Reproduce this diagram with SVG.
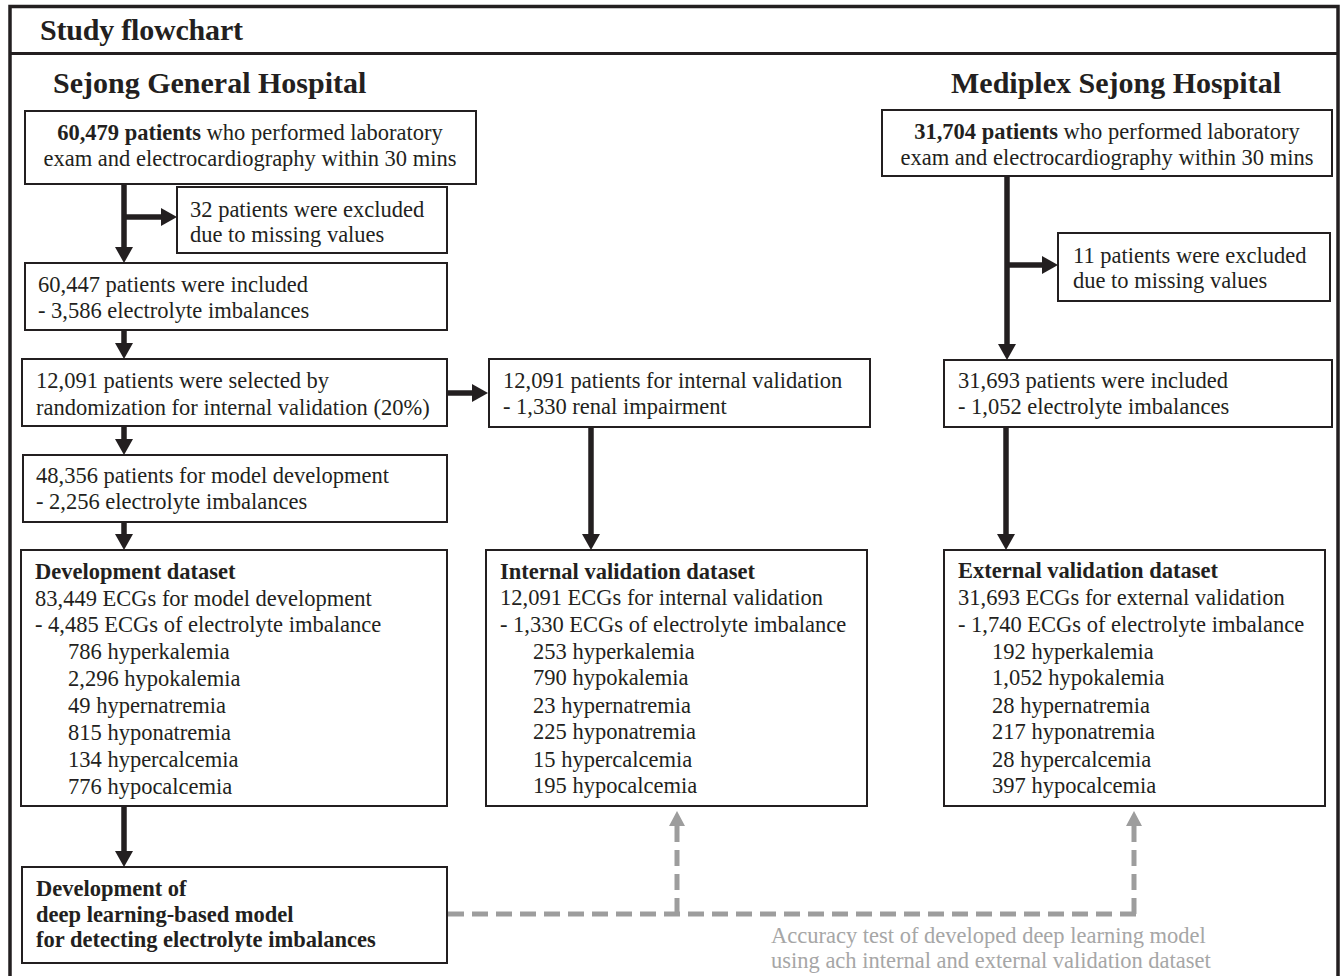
<svg xmlns="http://www.w3.org/2000/svg" width="1341" height="976" viewBox="0 0 1341 976">
<style>
.t{font-family:"Liberation Serif","Times New Roman",serif;font-size:22.5px;fill:#231f20}
.b{font-weight:bold}
.h{font-family:"Liberation Serif","Times New Roman",serif;font-weight:bold;font-size:30px;fill:#231f20}
.g{font-family:"Liberation Serif","Times New Roman",serif;font-size:22.5px;fill:#a6a6a6}
.box{fill:#ffffff;stroke:#231f20;stroke-width:2}
.ar{stroke:#231f20;stroke-width:5.5;fill:none}
.da{stroke:#9d9d9d;stroke-width:5;fill:none;stroke-dasharray:16 8}
</style>
<defs>
<marker id="ah" markerUnits="userSpaceOnUse" viewBox="0 0 16 18" refX="8" refY="9" markerWidth="16" markerHeight="18" orient="auto">
<path d="M0,0 L16,9 L0,18 z" fill="#231f20"/>
</marker>
<marker id="gh" markerUnits="userSpaceOnUse" viewBox="0 0 15 16" refX="2" refY="8" markerWidth="15" markerHeight="16" orient="auto">
<path d="M0,0 L15,8 L0,16 z" fill="#9d9d9d"/>
</marker>
</defs>
<rect width="1341" height="976" fill="#ffffff"/>
<g id="frame">
<rect x="10" y="6.5" width="1328" height="990" fill="none" stroke="#231f20" stroke-width="3.5"/>
<line x1="10" y1="53.5" x2="1338" y2="53.5" stroke="#231f20" stroke-width="3"/>
<text class="h" x="40" y="40" font-size="28" textLength="203" lengthAdjust="spacing">Study flowchart</text>
<text class="h" x="53" y="93">Sejong General Hospital</text>
<text class="h" x="951" y="93">Mediplex Sejong Hospital</text>
</g>
<g id="connectors">
<line class="ar" x1="124" y1="184" x2="124" y2="255" marker-end="url(#ah)"/>
<line class="ar" x1="124" y1="217" x2="169" y2="217" marker-end="url(#ah)"/>
<line class="ar" x1="124" y1="330" x2="124" y2="351" marker-end="url(#ah)"/>
<line class="ar" x1="447" y1="393" x2="480" y2="393" marker-end="url(#ah)"/>
<line class="ar" x1="124" y1="426" x2="124" y2="447" marker-end="url(#ah)"/>
<line class="ar" x1="591" y1="427" x2="591" y2="542" marker-end="url(#ah)"/>
<line class="ar" x1="124" y1="522" x2="124" y2="542" marker-end="url(#ah)"/>
<line class="ar" x1="124" y1="806" x2="124" y2="859" marker-end="url(#ah)"/>
<line class="ar" x1="1007" y1="176" x2="1007" y2="352" marker-end="url(#ah)"/>
<line class="ar" x1="1007" y1="265" x2="1050" y2="265" marker-end="url(#ah)"/>
<line class="ar" x1="1006" y1="427" x2="1006" y2="542" marker-end="url(#ah)"/>
<line class="da" x1="448" y1="914" x2="1136" y2="914"/>
<line class="da" x1="677" y1="914" x2="677" y2="824" marker-end="url(#gh)"/>
<line class="da" x1="1134" y1="914" x2="1134" y2="824" marker-end="url(#gh)"/>
<text class="g" x="771" y="943">Accuracy test of developed deep learning model</text>
<text class="g" x="771" y="968">using ach internal and external validation dataset</text>
</g>
<g id="sg-start">
<rect class="box" x="25" y="111" width="451" height="73"/>
<text class="t" x="250" y="140" text-anchor="middle"><tspan class="b">60,479 patients</tspan> who performed laboratory</text>
<text class="t" x="250" y="166" text-anchor="middle">exam and electrocardiography within 30 mins</text>
</g>
<g id="sg-excluded">
<rect class="box" x="177" y="187" width="270" height="66"/>
<text class="t" x="190" y="217">32 patients were excluded</text>
<text class="t" x="190" y="242">due to missing values</text>
</g>
<g id="sg-included">
<rect class="box" x="25" y="263" width="422" height="67"/>
<text class="t" x="38" y="292">60,447 patients were included</text>
<text class="t" x="38" y="318">- 3,586 electrolyte imbalances</text>
</g>
<g id="sg-selected">
<rect class="box" x="22" y="359" width="425" height="67"/>
<text class="t" x="36" y="388">12,091 patients were selected by</text>
<text class="t" x="36" y="415">randomization for internal validation (20%)</text>
</g>
<g id="sg-internal-patients">
<rect class="box" x="489" y="359" width="381" height="68"/>
<text class="t" x="503" y="388">12,091 patients for internal validation</text>
<text class="t" x="503" y="414">- 1,330 renal impairment</text>
</g>
<g id="sg-model-dev">
<rect class="box" x="23" y="455" width="424" height="67"/>
<text class="t" x="36" y="483">48,356 patients for model development</text>
<text class="t" x="36" y="509">- 2,256 electrolyte imbalances</text>
</g>
<g id="development-dataset">
<rect class="box" x="21" y="550" width="426" height="256"/>
<text class="t b" x="35" y="579">Development dataset</text>
<text class="t" x="35" y="606">83,449 ECGs for model development</text>
<text class="t" x="35" y="632">- 4,485 ECGs of electrolyte imbalance</text>
<text class="t" x="68" y="659">786 hyperkalemia</text>
<text class="t" x="68" y="686">2,296 hypokalemia</text>
<text class="t" x="68" y="713">49 hypernatremia</text>
<text class="t" x="68" y="740">815 hyponatremia</text>
<text class="t" x="68" y="767">134 hypercalcemia</text>
<text class="t" x="68" y="794">776 hypocalcemia</text>
</g>
<g id="internal-dataset">
<rect class="box" x="486" y="550" width="381" height="256"/>
<text class="t b" x="500" y="579">Internal validation dataset</text>
<text class="t" x="500" y="605">12,091 ECGs for internal validation</text>
<text class="t" x="500" y="632">- 1,330 ECGs of electrolyte imbalance</text>
<text class="t" x="533" y="659">253 hyperkalemia</text>
<text class="t" x="533" y="685">790 hypokalemia</text>
<text class="t" x="533" y="713">23 hypernatremia</text>
<text class="t" x="533" y="739">225 hyponatremia</text>
<text class="t" x="533" y="767">15 hypercalcemia</text>
<text class="t" x="533" y="793">195 hypocalcemia</text>
</g>
<g id="model-box">
<rect class="box" x="22" y="867" width="425" height="96"/>
<text class="t b" x="36" y="896">Development of</text>
<text class="t b" x="36" y="922">deep learning-based model</text>
<text class="t b" x="36" y="947">for detecting electrolyte imbalances</text>
</g>
<g id="ms-start">
<rect class="box" x="882" y="110" width="450" height="66"/>
<text class="t" x="1107" y="139" text-anchor="middle"><tspan class="b">31,704 patients</tspan> who performed laboratory</text>
<text class="t" x="1107" y="165" text-anchor="middle">exam and electrocardiography within 30 mins</text>
</g>
<g id="ms-excluded">
<rect class="box" x="1058" y="233" width="272" height="68"/>
<text class="t" x="1073" y="263">11 patients were excluded</text>
<text class="t" x="1073" y="288">due to missing values</text>
</g>
<g id="ms-included">
<rect class="box" x="944" y="360" width="388" height="67"/>
<text class="t" x="958" y="388">31,693 patients were included</text>
<text class="t" x="958" y="414">- 1,052 electrolyte imbalances</text>
</g>
<g id="external-dataset">
<rect class="box" x="944" y="550" width="381" height="256"/>
<text class="t b" x="958" y="578">External validation dataset</text>
<text class="t" x="958" y="605">31,693 ECGs for external validation</text>
<text class="t" x="958" y="632">- 1,740 ECGs of electrolyte imbalance</text>
<text class="t" x="992" y="659">192 hyperkalemia</text>
<text class="t" x="992" y="685">1,052 hypokalemia</text>
<text class="t" x="992" y="713">28 hypernatremia</text>
<text class="t" x="992" y="739">217 hyponatremia</text>
<text class="t" x="992" y="767">28 hypercalcemia</text>
<text class="t" x="992" y="793">397 hypocalcemia</text>
</g>
</svg>
